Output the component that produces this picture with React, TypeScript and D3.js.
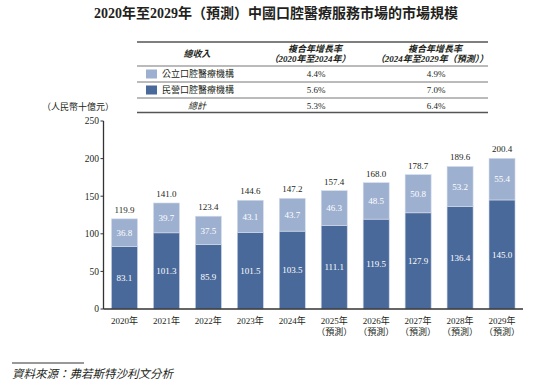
import React from "react";
import * as d3 from "d3";

const years = ["2020年", "2021年", "2022年", "2023年", "2024年", "2025年", "2026年", "2027年", "2028年", "2029年"];
const forecast = [false, false, false, false, false, true, true, true, true, true];
const privateVals = [83.1, 101.3, 85.9, 101.5, 103.5, 111.1, 119.5, 127.9, 136.4, 145.0];
const publicVals = [36.8, 39.7, 37.5, 43.1, 43.7, 46.3, 48.5, 50.8, 53.2, 55.4];
const totals = [119.9, 141.0, 123.4, 144.6, 147.2, 157.4, 168.0, 178.7, 189.6, 200.4];
const yTicks = [0, 50, 100, 150, 200, 250];

const tableHeader = ["總收入", "複合年增長率", "（2020年至2024年）", "複合年增長率", "（2024年至2029年（預測））"];
const tableRows = [
  { name: "公立口腔醫療機構", a: "4.4%", b: "4.9%", key: "public" },
  { name: "民營口腔醫療機構", a: "5.6%", b: "7.0%", key: "private" },
  { name: "總計", a: "5.3%", b: "6.4%", key: "total" },
];

const LIGHT = "#9db0d0";
const DARK = "#4a699b";
const TEXT = "#231f20";
const FONT = "'Liberation Serif', 'Noto Sans CJK TC', serif";

export default function App() {
  const x = d3.scaleBand<string>().domain(years).range([103.5, 523]).paddingInner(0.38).paddingOuter(0.19);
  const y = d3.scaleLinear().domain([0, 250]).range([309, 121]);
  const bw = x.bandwidth();

  const rowYs = [74, 90, 105.5];
  return (
    <svg width={536} height={383} style={{ position: "absolute", left: 0, top: 0, background: "#fff" }} fontFamily={FONT}>
      <text x={276} y={18} textAnchor="middle" fontSize={14} fontWeight="bold" fill={TEXT}>
        2020年至2029年（預測）中國口腔醫療服務市場的市場規模
      </text>

      {/* table */}
      <line x1={137} x2={488} y1={42} y2={42} stroke="#555" strokeWidth={1.5} />
      <line x1={137} x2={488} y1={66} y2={66} stroke="#777" strokeWidth={1} />
      <line x1={137} x2={488} y1={82} y2={82} stroke="#777" strokeWidth={1} />
      <line x1={137} x2={488} y1={98} y2={98} stroke="#777" strokeWidth={1} />
      <line x1={137} x2={488} y1={112.5} y2={112.5} stroke="#555" strokeWidth={1.5} />
      <text x={197} y={57} textAnchor="middle" fontSize={9} fontWeight="bold" fontStyle="italic" fill={TEXT}>{tableHeader[0]}</text>
      <text x={315} y={52} textAnchor="middle" fontSize={9} fontWeight="bold" fontStyle="italic" fill={TEXT}>{tableHeader[1]}</text>
      <text x={310} y={62} textAnchor="middle" fontSize={9} fontWeight="bold" fontStyle="italic" fill={TEXT}>{tableHeader[2]}</text>
      <text x={435} y={52} textAnchor="middle" fontSize={9} fontWeight="bold" fontStyle="italic" fill={TEXT}>{tableHeader[3]}</text>
      <text x={432} y={62} textAnchor="middle" fontSize={9} fontWeight="bold" fontStyle="italic" fill={TEXT}>{tableHeader[4]}</text>
      {tableRows.map((r, i) => (
        <g key={r.key}>
          {r.key !== "total" ? (
            <>
              <rect x={146} y={rowYs[i] - 4.5} width={11} height={9} fill={r.key === "public" ? LIGHT : DARK} />
              <text x={162} y={rowYs[i] + 3.3} fontSize={9} fill={TEXT}>{r.name}</text>
            </>
          ) : (
            <text x={197} y={rowYs[i] + 3.3} textAnchor="middle" fontSize={9} fontStyle="italic" fill={TEXT}>{r.name}</text>
          )}
          <text x={316} y={rowYs[i] + 3.3} textAnchor="middle" fontSize={9} fill={TEXT}>{r.a}</text>
          <text x={436} y={rowYs[i] + 3.3} textAnchor="middle" fontSize={9} fill={TEXT}>{r.b}</text>
        </g>
      ))}

      {/* unit */}
      <text x={78} y={110} textAnchor="middle" fontSize={9} fill={TEXT}>（人民幣十億元）</text>

      {/* bars */}
      {years.map((yr, i) => {
        const x0 = x(yr)!;
        const cx = x0 + bw / 2;
        const yPriv = y(privateVals[i]);
        const yTot = y(privateVals[i] + publicVals[i]);
        return (
          <g key={yr}>
            <rect x={x0} y={yPriv} width={bw} height={y(0) - yPriv} fill={DARK} stroke="#c9d3e4" strokeWidth={0.6} />
            <rect x={x0} y={yTot} width={bw} height={yPriv - yTot} fill={LIGHT} stroke="#d6deeb" strokeWidth={0.6} />
            <text x={cx} y={(yPriv + y(0)) / 2 + 3.2} textAnchor="middle" fontSize={9} fill="#fff">{privateVals[i].toFixed(1)}</text>
            <text x={cx} y={(yPriv + yTot) / 2 + 3.2} textAnchor="middle" fontSize={9} fill="#fff">{publicVals[i].toFixed(1)}</text>
            <text x={cx} y={y(totals[i]) - 6} textAnchor="middle" fontSize={9} fill={TEXT}>{totals[i].toFixed(1)}</text>
            <text x={cx} y={324} textAnchor="middle" fontSize={9} fill={TEXT}>{yr}</text>
            {forecast[i] && (
              <text x={cx} y={334.5} textAnchor="middle" fontSize={9} fill={TEXT}>（預測）</text>
            )}
          </g>
        );
      })}

      {/* axes */}
      <line x1={103.5} x2={103.5} y1={y(250)} y2={y(0)} stroke="#333" strokeWidth={1.3} />
      <line x1={103.5} x2={523} y1={y(0)} y2={y(0)} stroke="#333" strokeWidth={1.3} />
      {yTicks.map((t) => (
        <g key={t}>
          <line x1={100.5} x2={103.5} y1={y(t)} y2={y(t)} stroke="#333" strokeWidth={1} />
          <text x={99} y={y(t) + 3.3} textAnchor="end" fontSize={9.5} fill={TEXT}>{t}</text>
        </g>
      ))}

      {/* source */}
      <line x1={12} x2={84} y1={363} y2={363} stroke="#333" strokeWidth={1} />
      <text x={12} y={378} fontSize={11.5} fontStyle="italic" fill={TEXT}>資料來源：弗若斯特沙利文分析</text>
    </svg>
  );
}
